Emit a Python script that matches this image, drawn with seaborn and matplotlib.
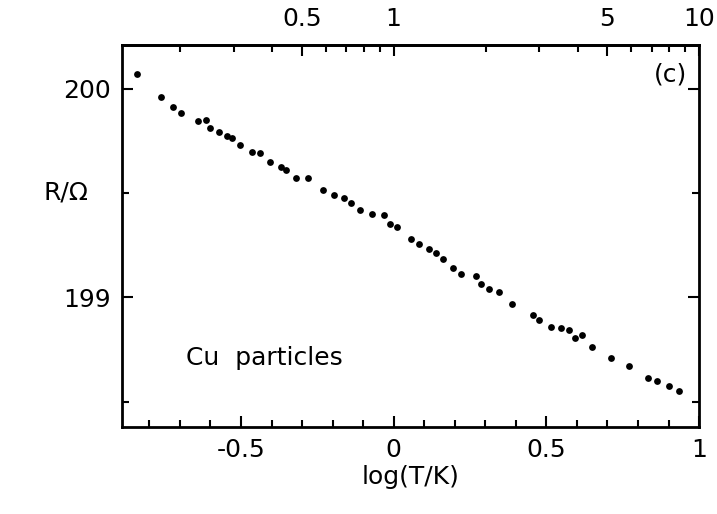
import matplotlib
matplotlib.use("Agg")
import matplotlib.pyplot as plt
import seaborn as sns
import numpy as np
import pandas as pd
from matplotlib.ticker import FixedLocator, MultipleLocator

# datos: log(T/K) y R/Ohm
log_t = [-0.839, -0.761, -0.724, -0.697, -0.641, -0.616, -0.600, -0.573, -0.546, -0.530,
         -0.503, -0.465, -0.438, -0.406, -0.368, -0.352, -0.319, -0.279, -0.233, -0.197,
         -0.163, -0.141, -0.109, -0.071, -0.033, -0.012, 0.010, 0.058, 0.083, 0.115,
         0.137, 0.163, 0.195, 0.222, 0.270, 0.286, 0.312, 0.344, 0.387, 0.456,
         0.477, 0.515, 0.547, 0.573, 0.594, 0.616, 0.648, 0.711, 0.770, 0.834,
         0.861, 0.903, 0.935]
resistance = [200.072, 199.960, 199.915, 199.886, 199.848, 199.851, 199.811, 199.795, 199.774, 199.763,
              199.731, 199.699, 199.691, 199.650, 199.624, 199.611, 199.575, 199.571, 199.514, 199.490,
              199.475, 199.453, 199.418, 199.402, 199.394, 199.354, 199.338, 199.282, 199.255, 199.231,
              199.214, 199.183, 199.143, 199.112, 199.104, 199.064, 199.040, 199.025, 198.969, 198.914,
              198.890, 198.859, 198.851, 198.843, 198.803, 198.819, 198.764, 198.709, 198.669, 198.613,
              198.598, 198.574, 198.550]

x_ticks = [-0.5, 0, 0.5, 1]
x_labels = ["-0.5", "0", "0.5", "1"]
y_ticks = [199, 200]
y_labels = ["199", "200"]
top_labels = ["0.5", "1", "5", "10"]
top_values = [0.5, 1, 5, 10]
top_minor = [0.2, 0.3, 0.4, 0.6, 0.7, 0.8, 0.9, 2, 3, 4, 6, 7, 8, 9]

sns.set_style("ticks")
plt.rcParams['font.family'] = ['DejaVu Sans']
plt.rcParams['font.size'] = 18
plt.rcParams['text.color'] = 'black'
plt.rcParams['axes.edgecolor'] = 'black'
plt.rcParams['xtick.color'] = 'black'
plt.rcParams['ytick.color'] = 'black'
plt.rcParams['axes.labelcolor'] = 'black'

df = pd.DataFrame({"logT": log_t, "R": resistance})

fig = plt.figure(figsize=(7.17, 5.14), dpi=100)
ax = fig.add_axes([0.170, 0.170, 0.805, 0.742])
sns.scatterplot(data=df, x="logT", y="R", ax=ax, color="black", s=24,
                edgecolor="black", linewidth=0, legend=False)

ax.set_xlim(-0.89, 1.0)
ax.set_ylim(198.38, 200.21)

ax.xaxis.set_major_locator(FixedLocator(x_ticks))
ax.set_xticklabels(x_labels)
ax.xaxis.set_minor_locator(MultipleLocator(0.1))
ax.yaxis.set_major_locator(FixedLocator(y_ticks))
ax.set_yticklabels(y_labels)
ax.yaxis.set_minor_locator(FixedLocator([198.5, 199.5]))

ax.tick_params(which="both", direction="in", right=True, width=1.5, labelsize=18)
ax.tick_params(which="major", length=8, pad=8)
ax.tick_params(which="minor", length=5)
for sp in ax.spines.values():
    sp.set_linewidth(2)
    sp.set_visible(True)

ax.set_xlabel("log(T/K)", fontsize=18, labelpad=2)
ax.set_ylabel("")
fig.text(0.092, 0.626, "R/Ω", fontsize=18, ha="center", va="center")

# eje superior en T (escala logaritmica)
sec = ax.secondary_xaxis("top")
sec.xaxis.set_major_locator(FixedLocator(np.log10(top_values)))
sec.set_xticklabels(top_labels)
sec.xaxis.set_minor_locator(FixedLocator(np.log10(top_minor)))
sec.tick_params(which="both", direction="in", width=1.5, labelsize=18, pad=10)
sec.tick_params(which="major", length=8)
sec.tick_params(which="minor", length=5)
sec.spines["top"].set_linewidth(2)

ax.text(0.96, 200.07, "(c)", fontsize=18, ha="right", va="center")
ax.text(-0.68, 198.71, "Cu  particles", fontsize=18, ha="left", va="center")

fig.savefig("out.png", dpi=100)
